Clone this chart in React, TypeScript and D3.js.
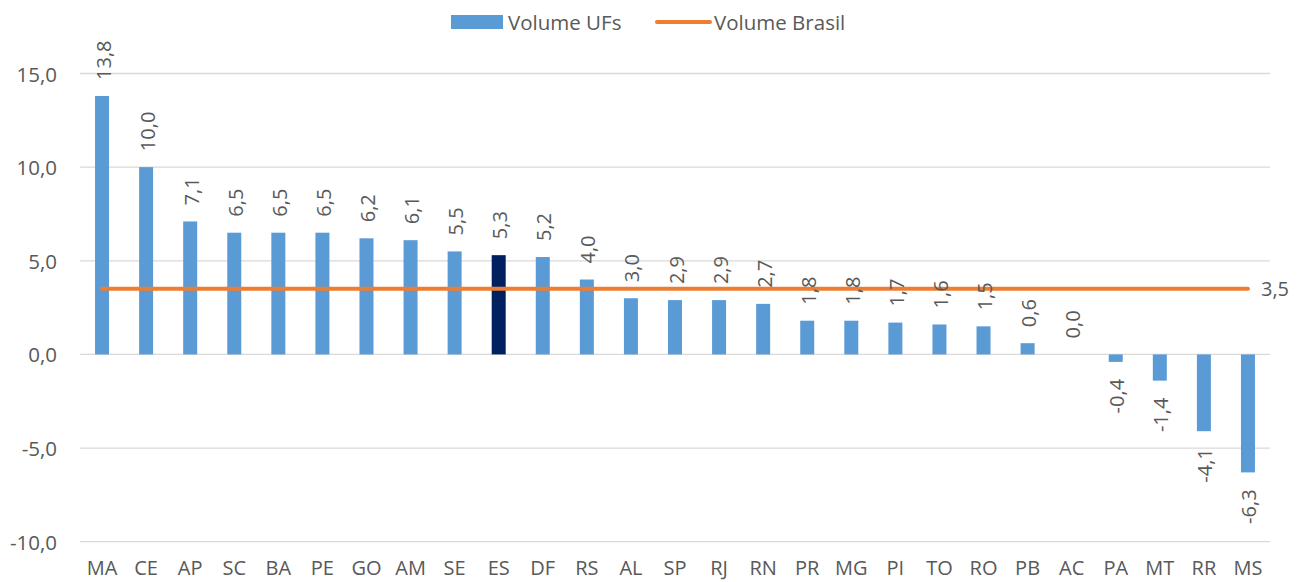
import React from "react";
import * as d3 from "d3";

const categories = ["MA","CE","AP","SC","BA","PE","GO","AM","SE","ES","DF","RS","AL","SP","RJ","RN","PR","MG","PI","TO","RO","PB","AC","PA","MT","RR","MS"];
const volumeUFs = [13.8,10.0,7.1,6.5,6.5,6.5,6.2,6.1,5.5,5.3,5.2,4.0,3.0,2.9,2.9,2.7,1.8,1.8,1.7,1.6,1.5,0.6,0.0,-0.4,-1.4,-4.1,-6.3];
const volumeBrasil = 3.5;
const highlight = "ES";
const yTicks = [-10,-5,0,5,10,15];

const W = 1300, H = 582;
const FONT = "'Open Sans', sans-serif";
const TXT = "#595959";

export default function App() {
  const x = d3.scaleBand<string>().domain(categories).range([80, 1270]).paddingInner(0).paddingOuter(0);
  const y = d3.scaleLinear().domain([-10, 15]).range([541.7, 73.5]);
  const bw = 14;
  const fmt = (v: number) => v.toFixed(1).replace(".", ",");
  const cx = (c: string) => (x(c) as number) + x.bandwidth() / 2;
  const lineGen = d3.line<string>().x(c => cx(c)).y(() => y(volumeBrasil));

  return (
    <svg width={W} height={H} style={{ position: "absolute", left: 0, top: 0 }} fontFamily={FONT}>
      <rect width={W} height={H} fill="#fff" />
      {yTicks.map(t => (
        <g key={t}>
          <line x1={80} x2={1270} y1={y(t)} y2={y(t)} stroke="#D9D9D9" strokeWidth={1.3} />
          <text x={57} y={y(t)} textAnchor="end" dominantBaseline="central" fontSize={20.5} fill={TXT}>{fmt(t)}</text>
        </g>
      ))}
      {categories.map((c, i) => {
        const v = volumeUFs[i];
        const y0 = y(Math.max(0, v)), y1 = y(Math.min(0, v));
        return (
          <rect key={c} x={cx(c) - bw / 2} y={y0} width={bw} height={Math.max(0, y1 - y0)}
            fill={c === highlight ? "#002060" : "#5B9BD5"} />
        );
      })}
      <path d={lineGen(categories) || ""} stroke="#ED7D31" strokeWidth={4} fill="none" strokeLinecap="round" />
      {categories.map((c, i) => {
        const v = volumeUFs[i];
        const pos = v >= 0;
        const ty = pos ? y(v) - 16 : y(v) + 17;
        return (
          <text key={c} transform={`translate(${cx(c) + 1},${ty}) rotate(-90)`} textAnchor={pos ? "start" : "end"}
            dominantBaseline="central" fontSize={20} fill={TXT}>{fmt(v)}</text>
        );
      })}
      <text x={1261} y={y(volumeBrasil)} dominantBaseline="central" fontSize={20} fill={TXT}>{fmt(volumeBrasil)}</text>
      {categories.map(c => (
        <text key={c} x={cx(c)} y={575} textAnchor="middle" fontSize={20} fill={TXT}>{c}</text>
      ))}
      <rect x={451} y={15} width={52} height={14} fill="#5B9BD5" />
      <text x={508} y={22} dominantBaseline="central" fontSize={20.5} fill={TXT}>Volume UFs</text>
      <line x1={657} x2={710} y1={22} y2={22} stroke="#ED7D31" strokeWidth={4} strokeLinecap="round" />
      <text x={714} y={22} dominantBaseline="central" fontSize={20.5} fill={TXT}>Volume Brasil</text>
    </svg>
  );
}
